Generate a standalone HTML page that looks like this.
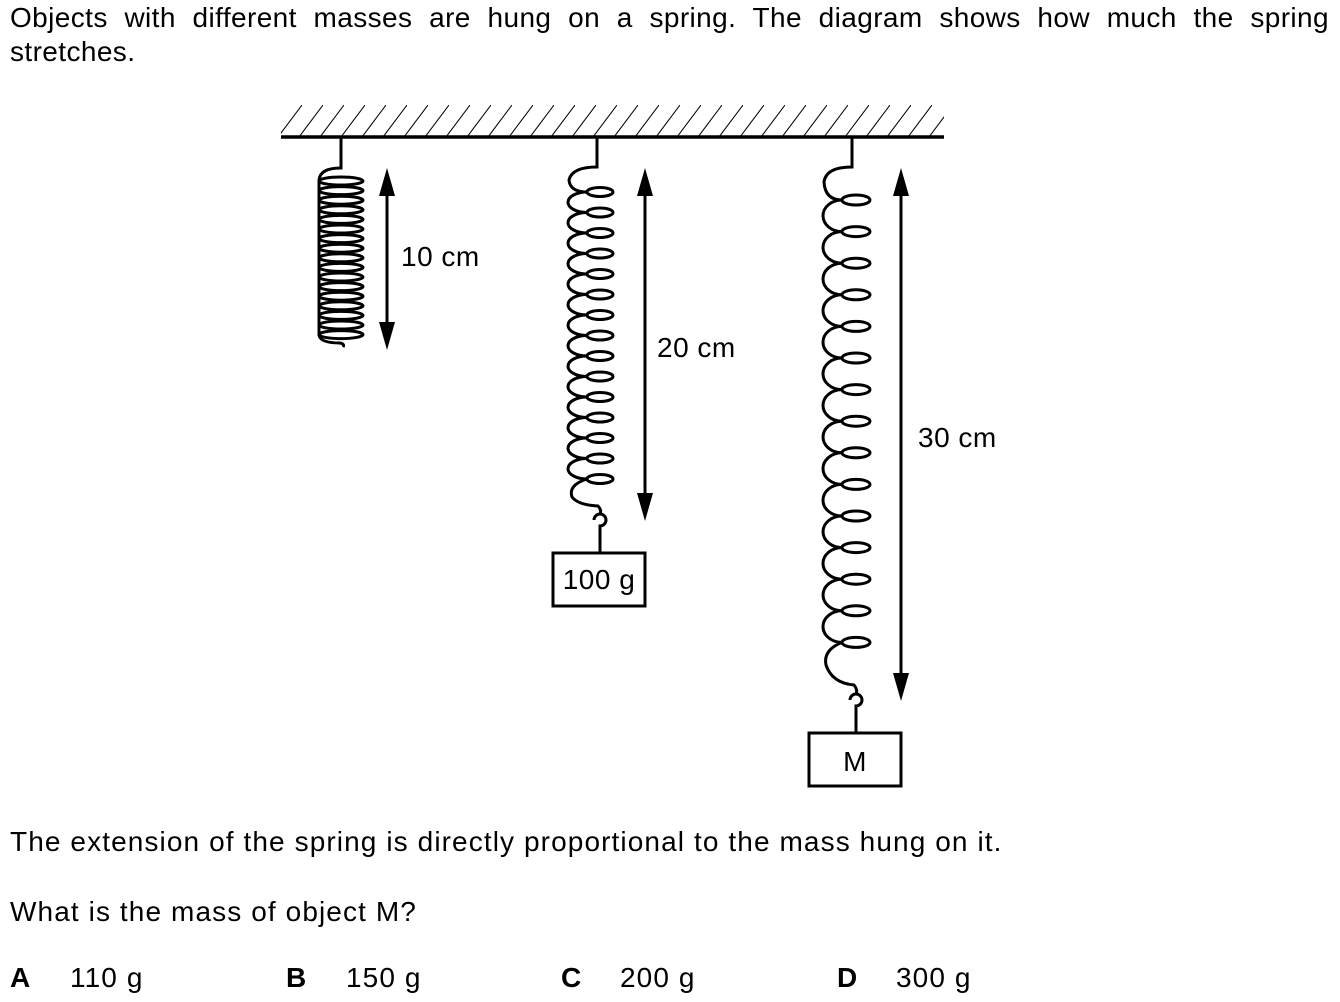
<!DOCTYPE html>
<html><head><meta charset="utf-8"><style>
html,body{margin:0;padding:0;background:#fff;}
body{width:1340px;height:1002px;position:relative;overflow:hidden;font-family:"Liberation Sans",Arial,sans-serif;color:#000;}
.t{position:absolute;font-size:28px;line-height:34px;white-space:nowrap;letter-spacing:1.1px;}
</style></head><body>
<div class="t" style="left:10px;top:1px;width:1319px;white-space:normal;text-align:justify;text-align-last:justify;letter-spacing:0.4px;">Objects with different masses are hung on a spring. The diagram shows how much the spring</div>
<div class="t" style="left:10px;top:35px;letter-spacing:0.4px;">stretches.</div>
<svg width="1340" height="1002" style="position:absolute;left:0;top:0" xmlns="http://www.w3.org/2000/svg">
<defs>
<pattern id="h" width="21" height="32" patternUnits="userSpaceOnUse" x="281" y="105">
<line x1="-3" y1="32" x2="21" y2="0" stroke="#000" stroke-width="1"/>
<line x1="18" y1="32" x2="42" y2="0" stroke="#000" stroke-width="1"/>
</pattern>
</defs>
<rect x="281" y="105" width="663" height="32" fill="url(#h)"/>
<line x1="281" y1="137" x2="944" y2="137" stroke="#000" stroke-width="3.5"/>
<g fill="none" stroke="#000" stroke-width="3">
<path d="M341,138 V168 Q320,168 319,180 L319,335 Q320,343 340,343 Q345,344 343,347"/>
<ellipse cx="341" cy="181" rx="22" ry="4"/><ellipse cx="341" cy="190.6" rx="22" ry="4"/><ellipse cx="341" cy="200.2" rx="22" ry="4"/><ellipse cx="341" cy="209.8" rx="22" ry="4"/><ellipse cx="341" cy="219.4" rx="22" ry="4"/><ellipse cx="341" cy="229" rx="22" ry="4"/><ellipse cx="341" cy="238.6" rx="22" ry="4"/><ellipse cx="341" cy="248.2" rx="22" ry="4"/><ellipse cx="341" cy="257.8" rx="22" ry="4"/><ellipse cx="341" cy="267.4" rx="22" ry="4"/><ellipse cx="341" cy="277" rx="22" ry="4"/><ellipse cx="341" cy="286.6" rx="22" ry="4"/><ellipse cx="341" cy="296.2" rx="22" ry="4"/><ellipse cx="341" cy="305.8" rx="22" ry="4"/><ellipse cx="341" cy="315.4" rx="22" ry="4"/><ellipse cx="341" cy="325" rx="22" ry="4"/><ellipse cx="341" cy="334.6" rx="22" ry="4"/>
<path d="M597,138 V167 Q572,167 569,180 Q570,192 587,192 A19,10.25 0 0 0 587,212.5 A19,10.25 0 0 0 587,233 A19,10.25 0 0 0 587,253.5 A19,10.25 0 0 0 587,274 A19,10.25 0 0 0 587,294.5 A19,10.25 0 0 0 587,315 A19,10.25 0 0 0 587,335.5 A19,10.25 0 0 0 587,356 A19,10.25 0 0 0 587,376.5 A19,10.25 0 0 0 587,397 A19,10.25 0 0 0 587,417.5 A19,10.25 0 0 0 587,438 A19,10.25 0 0 0 587,458.5 A19,10.25 0 0 0 587,479 Q568,485 572,497 Q578,505 598,506 Q602,510 600,515"/>
<path d="M594,520 A6,6 0 1 1 600,526 V552" />
<g><ellipse cx="600" cy="192" rx="13" ry="4.5"/><ellipse cx="600" cy="212.5" rx="13" ry="4.5"/><ellipse cx="600" cy="233" rx="13" ry="4.5"/><ellipse cx="600" cy="253.5" rx="13" ry="4.5"/><ellipse cx="600" cy="274" rx="13" ry="4.5"/><ellipse cx="600" cy="294.5" rx="13" ry="4.5"/><ellipse cx="600" cy="315" rx="13" ry="4.5"/><ellipse cx="600" cy="335.5" rx="13" ry="4.5"/><ellipse cx="600" cy="356" rx="13" ry="4.5"/><ellipse cx="600" cy="376.5" rx="13" ry="4.5"/><ellipse cx="600" cy="397" rx="13" ry="4.5"/><ellipse cx="600" cy="417.5" rx="13" ry="4.5"/><ellipse cx="600" cy="438" rx="13" ry="4.5"/><ellipse cx="600" cy="458.5" rx="13" ry="4.5"/><ellipse cx="600" cy="479" rx="13" ry="4.5"/></g>
<rect x="553" y="553" width="92" height="53"/>
<path d="M852,138 V167 Q826,167 824,182 Q825,200 842,200 A19,15.8 0 0 0 842,231.6 A19,15.8 0 0 0 842,263.2 A19,15.8 0 0 0 842,294.8 A19,15.8 0 0 0 842,326.4 A19,15.8 0 0 0 842,358 A19,15.8 0 0 0 842,389.6 A19,15.8 0 0 0 842,421.2 A19,15.8 0 0 0 842,452.8 A19,15.8 0 0 0 842,484.4 A19,15.8 0 0 0 842,516 A19,15.8 0 0 0 842,547.6 A19,15.8 0 0 0 842,579.2 A19,15.8 0 0 0 842,610.8 A19,15.8 0 0 0 842,642.4 Q823,650 826,665 Q832,683 854,685 Q858,690 856,695"/>
<path d="M850,700 A6,6 0 1 1 856,706 V733"/>
<g><ellipse cx="856" cy="200" rx="14" ry="5"/><ellipse cx="856" cy="231.6" rx="14" ry="5"/><ellipse cx="856" cy="263.2" rx="14" ry="5"/><ellipse cx="856" cy="294.8" rx="14" ry="5"/><ellipse cx="856" cy="326.4" rx="14" ry="5"/><ellipse cx="856" cy="358" rx="14" ry="5"/><ellipse cx="856" cy="389.6" rx="14" ry="5"/><ellipse cx="856" cy="421.2" rx="14" ry="5"/><ellipse cx="856" cy="452.8" rx="14" ry="5"/><ellipse cx="856" cy="484.4" rx="14" ry="5"/><ellipse cx="856" cy="516" rx="14" ry="5"/><ellipse cx="856" cy="547.6" rx="14" ry="5"/><ellipse cx="856" cy="579.2" rx="14" ry="5"/><ellipse cx="856" cy="610.8" rx="14" ry="5"/><ellipse cx="856" cy="642.4" rx="14" ry="5"/></g>
<rect x="809" y="733" width="92" height="53"/>
<line x1="387" y1="185" x2="387" y2="330"/>
<line x1="645" y1="185" x2="645" y2="500"/>
<line x1="901" y1="185" x2="901" y2="680"/>
</g>
<g fill="#000">
<polygon points="387,168 379,196 395,196"/><polygon points="387,350 379,322 395,322"/>
<polygon points="645,168 637,196 653,196"/><polygon points="645,521 637,493 653,493"/>
<polygon points="901,168 893,196 909,196"/><polygon points="901,701 893,673 909,673"/>
</g>
<g font-family="Liberation Sans, Arial, sans-serif" font-size="28" fill="#000" letter-spacing="0.5">
<text x="401" y="266">10 cm</text>
<text x="657" y="357">20 cm</text>
<text x="918" y="447">30 cm</text>
<text x="599" y="589" text-anchor="middle">100 g</text>
<text x="855" y="771" text-anchor="middle">M</text>
</g>
</svg>
<div class="t" style="left:10px;top:825px;">The extension of the spring is directly proportional to the mass hung on it.</div>
<div class="t" style="left:10px;top:895px;">What is the mass of object M?</div>
<div class="t" style="left:10px;top:961px;"><b>A</b></div><div class="t" style="left:70px;top:961px;">110 g</div>
<div class="t" style="left:286px;top:961px;"><b>B</b></div><div class="t" style="left:346px;top:961px;">150 g</div>
<div class="t" style="left:561px;top:961px;"><b>C</b></div><div class="t" style="left:620px;top:961px;">200 g</div>
<div class="t" style="left:837px;top:961px;"><b>D</b></div><div class="t" style="left:896px;top:961px;">300 g</div>
</body></html>
